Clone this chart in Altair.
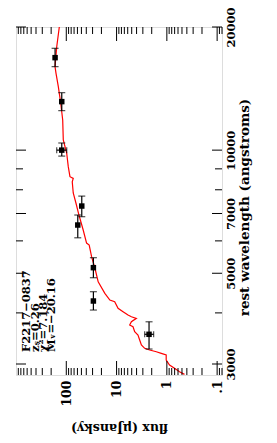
import altair as alt
import pandas as pd

# model SED (rest wavelength in angstroms, flux in microJansky)
model_lam = [20000, 17900, 16000, 15410, 14290, 13040, 11850, 10590, 9840, 9110, 8610, 8530, 8370,
             7856, 7426, 6940, 6378, 5926, 5860, 5489, 5150, 4766, 4465, 4300, 4259, 4104, 4026,
             3952, 3914, 3879, 3805, 3736, 3700, 3598, 3532, 3434, 3338, 3277, 3246, 3215, 3186,
             3156, 3069, 2983, 2928, 2872, 2830]
model_flux = [137.6, 154.9, 167.4, 160, 144, 129.1, 117.8, 114.7, 98.2, 91.3, 84.5, 72.7, 76.1,
              72.7, 64.3, 56.0, 46.1, 39.5, 35.0, 31.4, 27.0, 23.2, 17.1, 13.6, 10.9, 9.34, 7.43,
              5.92, 5.07, 4.04, 5.07, 5.48, 4.71, 4.36, 3.75, 3.47, 3.21, 2.76, 2.20, 1.62, 1.29,
              1.03, 1.03, 0.884, 0.704, 0.560, 0.446]

# photometry
phot_lam = [16830, 13140, 10000, 7300, 6560, 5160, 4277, 3546]
phot_flux = [167, 123, 123, 49.2, 59.1, 28.9, 28.9, 2.26]
phot_lam_lo = [16000, 12490, 9670, 6875, 6105, 4876, 4065, 3264]
phot_lam_hi = [17740, 13820, 10410, 7720, 6940, 5458, 4507, 3805]
ferr_lam = [10000, 3546]
ferr_lo = [98, 1.83]
ferr_hi = [155, 2.76]

# axis ticks
flux_major = [0.1, 1, 10, 100]
flux_minor = [0.08, 0.09, 0.2, 0.3, 0.4, 0.5, 0.6, 0.7, 0.8, 0.9, 2, 3, 4, 5, 6, 7, 8, 9,
              20, 30, 40, 50, 60, 70, 80, 90, 200, 300, 400, 500, 600, 700, 800, 900]
lam_major = [3000, 5000, 7000, 10000, 20000]
lam_minor = [4000, 6000, 8000, 9000]

annot = ["F2217\u22120837", "z\u209b=0.26", "\u03c7\u00b2=7.184", "M\u1d65=\u221220.16"]

W, H = 206, 348
FONT = "DejaVu Serif"
xs = alt.Scale(type="log", domain=[0.08, 1000], reverse=True)
ys = alt.Scale(type="log", domain=[2820, 20000])

XAX = alt.Axis(
    values=flux_major, ticks=False, domain=False, grid=False,
    labelAngle=270, labelAlign="right", labelBaseline="middle", labelPadding=5,
    labelExpr="datum.value < 1 ? '.1' : format(datum.value, 'd')",
    labelFont=FONT, labelFontSize=12.5, labelFontWeight="bold", labelColor="black",
    title="flux (\u03bcJansky)", titleAngle=180, titleX=W / 2, titleY=52,
    titleAlign="center", titleBaseline="middle",
    titleFont=FONT, titleFontSize=12.5, titleFontWeight="bold", titleColor="black")
YAX = alt.Axis(
    orient="right", values=lam_major, format="d", ticks=False, domain=False, grid=False,
    labelAngle=270, labelAlign="center", labelBaseline="top", labelPadding=3,
    labelFont=FONT, labelFontSize=11.5, labelFontWeight="bold", labelColor="black",
    labelOverlap=False, labelBound=False, labelFlush=False,
    title="rest wavelength (angstroms)", titleAngle=270, titleX=22, titleY=180,
    titleAlign="center", titleBaseline="middle",
    titleFont=FONT, titleFontSize=13.5, titleFontWeight="bold", titleColor="black")


def X(f):
    return alt.X(f, scale=xs, axis=XAX)


def Y(f):
    return alt.Y(f, scale=ys, axis=YAX)


model_df = pd.DataFrame({"lam": model_lam, "flux": model_flux, "i": range(len(model_lam))})
phot_df = pd.DataFrame({"lam": phot_lam, "flux": phot_flux, "lo": phot_lam_lo, "hi": phot_lam_hi})
ferr_df = pd.DataFrame({"lam": ferr_lam, "lo": ferr_lo, "hi": ferr_hi})

line = alt.Chart(model_df).mark_line(color="#ff0000", strokeWidth=1.2, clip=True).encode(
    x=X("flux:Q"), y=Y("lam:Q"), order="i:Q")

lam_bars = alt.Chart(phot_df).mark_rule(color="black", strokeWidth=1.2).encode(
    x=X("flux:Q"), y=Y("lo:Q"), y2="hi:Q")
cap_lo = alt.Chart(phot_df).mark_tick(orient="horizontal", size=7, thickness=1.2, color="black").encode(
    x=X("flux:Q"), y=Y("lo:Q"))
cap_hi = alt.Chart(phot_df).mark_tick(orient="horizontal", size=7, thickness=1.2, color="black").encode(
    x=X("flux:Q"), y=Y("hi:Q"))

f_bars = alt.Chart(ferr_df).mark_rule(color="black", strokeWidth=1.2).encode(
    x=X("lo:Q"), x2="hi:Q", y=Y("lam:Q"))
fcap_lo = alt.Chart(ferr_df).mark_tick(orient="vertical", size=6, thickness=1.2, color="black").encode(
    x=X("lo:Q"), y=Y("lam:Q"))
fcap_hi = alt.Chart(ferr_df).mark_tick(orient="vertical", size=6, thickness=1.2, color="black").encode(
    x=X("hi:Q"), y=Y("lam:Q"))

pts = alt.Chart(phot_df).mark_square(size=30, color="black", opacity=1, filled=True).encode(
    x=X("flux:Q"), y=Y("lam:Q"))


def xticks(vals, length):
    d = pd.DataFrame({"v": vals})
    bot = alt.Chart(d).mark_rule(color="black", strokeWidth=1).encode(
        x=X("v:Q"), y=alt.value(H), y2=alt.value(H - length))
    top = alt.Chart(d).mark_rule(color="black", strokeWidth=1).encode(
        x=X("v:Q"), y=alt.value(0), y2=alt.value(length))
    return [bot, top]


def yticks(vals, length):
    d = pd.DataFrame({"v": vals})
    left = alt.Chart(d).mark_rule(color="black", strokeWidth=1).encode(
        y=Y("v:Q"), x=alt.value(0), x2=alt.value(length))
    right = alt.Chart(d).mark_rule(color="black", strokeWidth=1).encode(
        y=Y("v:Q"), x=alt.value(W), x2=alt.value(W - length))
    return [left, right]


ticks = xticks(flux_major, 14) + xticks(flux_minor, 7) + yticks(lam_major, 10) + yticks(lam_minor, 7)

texts = []
tx = [10.5, 19.5, 27.5, 36]
for s, xp in zip(annot, tx):
    texts.append(
        alt.Chart(pd.DataFrame({"t": [s]})).mark_text(
            angle=270, align="left", baseline="middle", font=FONT, fontSize=11.5,
            fontWeight="bold", color="black").encode(
            text="t:N", x=alt.value(xp), y=alt.value(325)))

chart = alt.layer(line, lam_bars, cap_lo, cap_hi, f_bars, fcap_lo, fcap_hi, pts, *ticks, *texts).properties(
    width=W, height=H,
    autosize=alt.AutoSizeParams(type="none"),
    padding={"left": 8, "top": 19, "right": 47, "bottom": 60},
).configure_view(stroke="black", strokeWidth=1.5).configure(background="white")

chart.save("out.html", embed_options={"renderer": "svg", "actions": False})
